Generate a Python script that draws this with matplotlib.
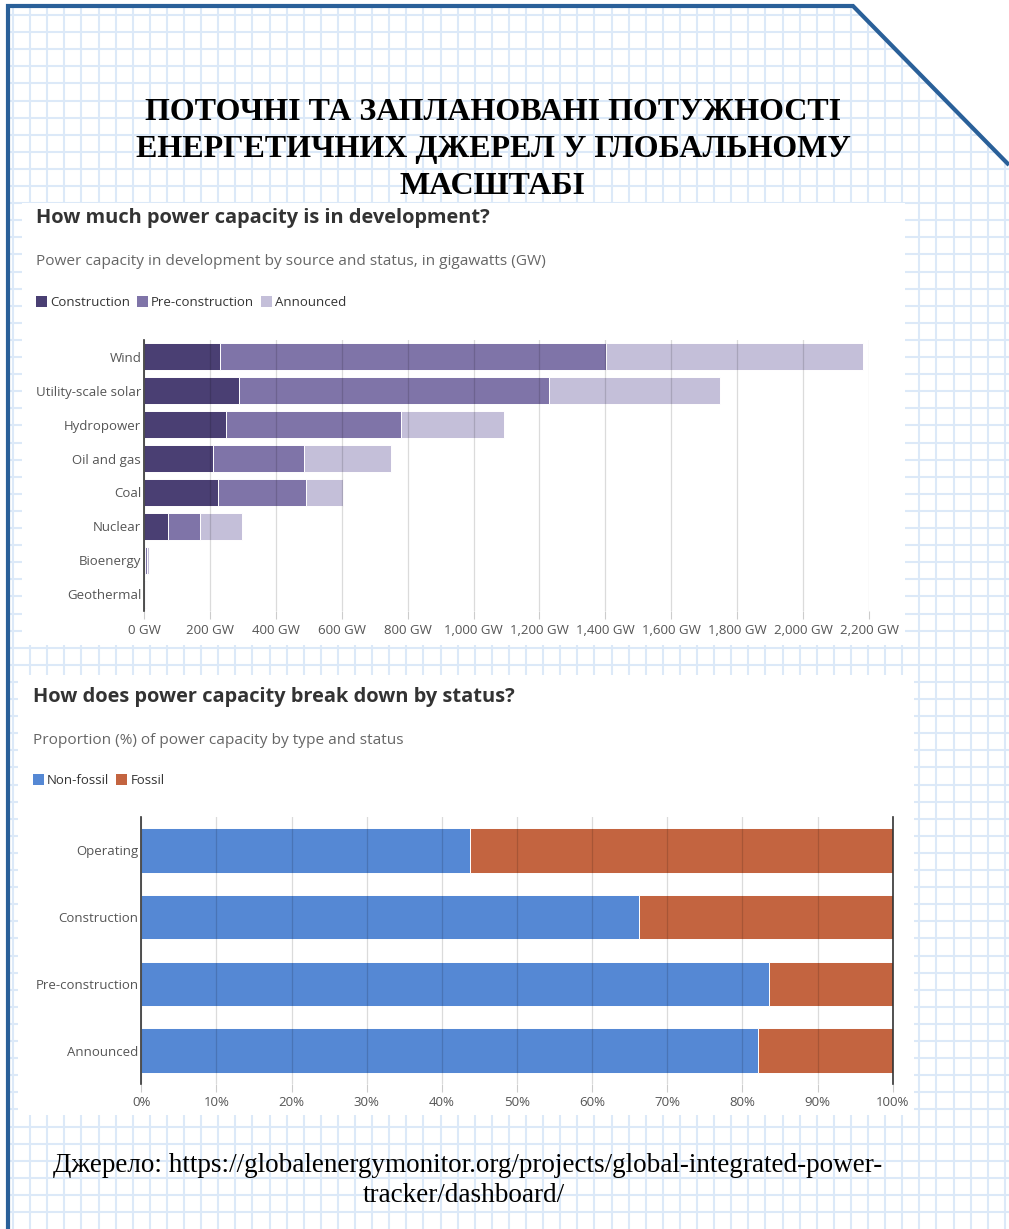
import numpy as np
import matplotlib
matplotlib.use('Agg')
import matplotlib.pyplot as plt
from matplotlib.patches import Rectangle, Polygon

W, H = 1009, 1229

# data: power capacity in development (GW)
sources = ['Wind', 'Utility-scale solar', 'Hydropower', 'Oil and gas',
           'Coal', 'Nuclear', 'Bioenergy', 'Geothermal']
construction = [232, 288, 250, 208, 226, 72, 4, 3]
pre_construction = [1171, 942, 529, 277, 265, 99, 6, 3]
announced = [779, 518, 312, 266, 113, 127, 4, 2]
gw_ticks = list(range(0, 2201, 200))

# data: share by status (%)
statuses = ['Operating', 'Construction', 'Pre-construction', 'Announced']
non_fossil = [43.7, 66.3, 83.5, 82.1]
fossil = [100 - v for v in non_fossil]
pct_ticks = list(range(0, 101, 10))

c_cons, c_pre, c_ann = '#4a3f73', '#7f74a8', '#c4bfd9'
c_nonfossil, c_fossil = '#5588d4', '#c36440'
border = '#2a6099'
gridpaper = '#dce9f8'
txt_dark, txt_gray = '#333333', '#666666'
SANS = ['Open Sans', 'DejaVu Sans']
SERIF = ['Liberation Serif', 'DejaVu Serif']

fig = plt.figure(figsize=(W / 100, H / 100), dpi=100)
fig.patch.set_facecolor('white')


def fx(x):
    return x / W


def fy(y):
    return 1 - y / H


# background: squared paper inside a blue frame with a cut corner
bg = fig.add_axes([0, 0, 1, 1])
bg.set_xlim(0, W)
bg.set_ylim(H, 0)
bg.axis('off')
frame = [(8, 6), (853, 6), (1009, 165), (1009, H), (8, H)]
clip = Polygon(frame, closed=True, transform=bg.transData, facecolor='none', edgecolor='none')
bg.add_patch(clip)
for gx in np.arange(13, W, 17.1):
    ln = bg.plot([gx, gx], [0, H], color=gridpaper, lw=1.5, zorder=1)[0]
    ln.set_clip_path(clip)
for gy in np.arange(15, H, 17.1):
    ln = bg.plot([0, W], [gy, gy], color=gridpaper, lw=1.5, zorder=1)[0]
    ln.set_clip_path(clip)
bg.plot([8, 8, 853, 1009], [H, 6, 6, 165], color=border, lw=3,
        solid_capstyle='butt', solid_joinstyle='miter', zorder=3)
bg.add_patch(Rectangle((22, 203), 905 - 22, 645 - 203, facecolor='white', edgecolor='none', zorder=2))
bg.add_patch(Rectangle((18, 675), 914 - 18, 1115 - 675, facecolor='white', edgecolor='none', zorder=2))

# main title
for i, line in enumerate(['ПОТОЧНІ ТА ЗАПЛАНОВАНІ ПОТУЖНОСТІ',
                          'ЕНЕРГЕТИЧНИХ ДЖЕРЕЛ У ГЛОБАЛЬНОМУ',
                          'МАСШТАБІ']):
    fig.text(fx(493), fy(113 + 37 * i), line, family=SERIF, weight='bold',
             fontsize=23, ha='center', va='center', color='black')

# source
fig.text(fx(468), fy(1165), 'Джерело: https://globalenergymonitor.org/projects/global-integrated-power-',
         family=SERIF, fontsize=19.5, ha='center', va='center', color='black')
fig.text(fx(464), fy(1195), 'tracker/dashboard/', family=SERIF, fontsize=19.5,
         ha='center', va='center', color='black')

renderer = fig.canvas.get_renderer()


def legend_row(x, y, items):
    for label, color in items:
        bg.add_patch(Rectangle((x, y - 6), 11, 11, facecolor=color, edgecolor='none', zorder=4))
        t = fig.text(fx(x + 14), fy(y), label, family=SANS, fontsize=9.5,
                     color=txt_dark, va='center', ha='left')
        x = x + 14 + t.get_window_extent(renderer).width + 7


def style_axes(ax):
    ax.set_facecolor('none')
    for s in ['top', 'right', 'bottom']:
        ax.spines[s].set_visible(False)
    ax.spines['left'].set_color(txt_dark)
    ax.spines['left'].set_linewidth(1.2)
    ax.spines['left'].set_zorder(5)
    ax.grid(axis='x', color='black', alpha=0.14, lw=0.9)
    ax.set_axisbelow(False)
    ax.tick_params(axis='x', length=6, color='#cccccc', pad=3, labelsize=9.5, labelcolor='#555555')
    ax.tick_params(axis='y', length=0, pad=2, labelsize=9.5, labelcolor='#555555')
    for lab in ax.get_xticklabels() + ax.get_yticklabels():
        lab.set_family(SANS)


# chart 1
fig.text(fx(36), fy(218), 'How much power capacity is in development?', family=SANS,
         weight='bold', fontsize=14.4, color=txt_dark, va='center')
fig.text(fx(36), fy(262), 'Power capacity in development by source and status, in gigawatts (GW)',
         family=SANS, fontsize=11.1, color=txt_gray, va='center')
legend_row(36, 302, [('Construction', c_cons), ('Pre-construction', c_pre), ('Announced', c_ann)])

ax1 = fig.add_axes([fx(144), fy(611), (869 - 144) / W, (611 - 340) / H])
y1 = np.arange(len(sources))
left = np.zeros(len(sources))
for vals, col in [(construction, c_cons), (pre_construction, c_pre), (announced, c_ann)]:
    ax1.barh(y1, vals, left=left, height=0.8, color=col, edgecolor='white', lw=0.7, zorder=2)
    left = left + np.array(vals)
ax1.set_xlim(0, 2200)
ax1.set_ylim(len(sources) - 0.5, -0.5)
ax1.set_yticks(y1)
ax1.set_yticklabels(sources)
ax1.set_xticks(gw_ticks)
ax1.set_xticklabels([f'{v:,} GW' for v in gw_ticks])
style_axes(ax1)

# chart 2
fig.text(fx(33), fy(697), 'How does power capacity break down by status?', family=SANS,
         weight='bold', fontsize=14.4, color=txt_dark, va='center')
fig.text(fx(33), fy(740), 'Proportion (%) of power capacity by type and status',
         family=SANS, fontsize=11.1, color=txt_gray, va='center')
legend_row(33, 780, [('Non-fossil', c_nonfossil), ('Fossil', c_fossil)])

ax2 = fig.add_axes([fx(141.3), fy(1084), (892.7 - 141.3) / W, (1084 - 817) / H])
y2 = np.arange(len(statuses))
ax2.barh(y2, non_fossil, height=0.67, color=c_nonfossil, edgecolor='white', lw=0.7, zorder=2)
ax2.barh(y2, fossil, left=non_fossil, height=0.67, color=c_fossil, edgecolor='white', lw=0.7, zorder=2)
ax2.set_xlim(0, 100)
ax2.set_ylim(len(statuses) - 0.5, -0.5)
ax2.set_yticks(y2)
ax2.set_yticklabels(statuses)
ax2.set_xticks(pct_ticks)
ax2.set_xticklabels([f'{v}%' for v in pct_ticks])
style_axes(ax2)
ax2.spines['right'].set_visible(True)
ax2.spines['right'].set_color(txt_dark)
ax2.spines['right'].set_linewidth(1.2)
ax2.spines['right'].set_zorder(5)

fig.savefig('out.png', dpi=100)
